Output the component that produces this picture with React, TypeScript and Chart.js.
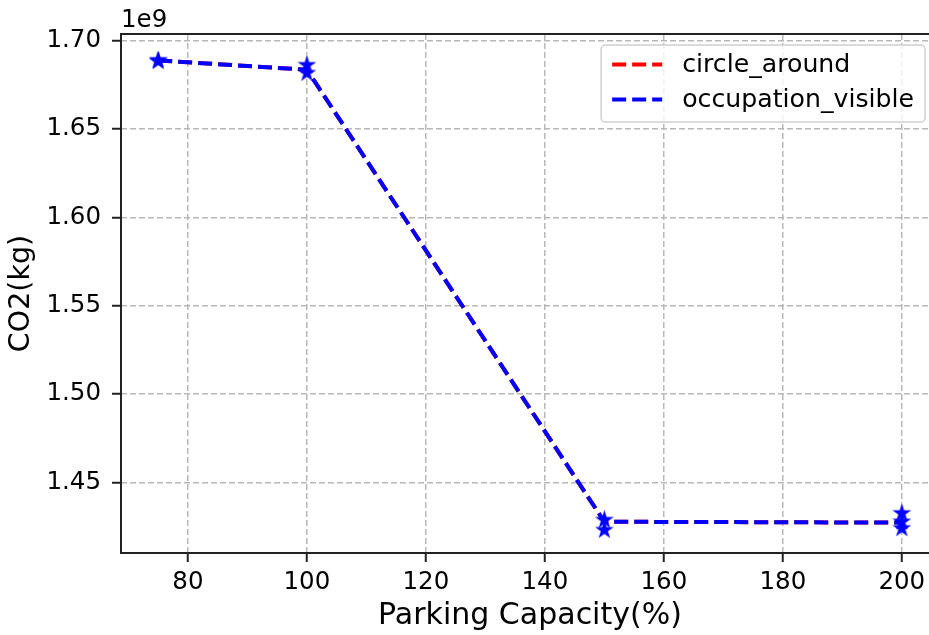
import React, { useEffect, useRef } from "react";
import { Chart, registerables } from "chart.js";

Chart.register(...registerables);

// ---- data ----
const capacity = [75, 100, 150, 200];
const circleAround = [1.6888e9, 1.6836e9, 1.4277e9, 1.4272e9];
const occupationVisible = [1.6888e9, 1.6836e9, 1.4277e9, 1.4272e9];
const runCapacity = [75, 75, 100, 100, 150, 150, 200, 200, 200];
const runCO2 = [1.689e9, 1.6884e9, 1.6862e9, 1.6817e9, 1.4287e9, 1.423e9, 1.4325e9, 1.4277e9, 1.424e9];
const xTicks = [80, 100, 120, 140, 160, 180, 200];
const yTicks = [1.45e9, 1.5e9, 1.55e9, 1.6e9, 1.65e9, 1.7e9];
const xRange = [68.75, 206.25];
const yRange = [1.41e9, 1.7038e9];
const seriesLabels = ["circle_around", "occupation_visible"];
const seriesColors = ["#ff0000", "#0000ff"];
const yOffsetLabel = "1e9";
const xTitle = "Parking Capacity(%)";
const yTitle = "CO2(kg)";

const FONT = '"DejaVu Sans", sans-serif';
const CANVAS_W = 950;
const CANVAS_H = 635;
const TICK_FS = 24.5;
const LEGEND_FS = 25.2;
const LINE_DASH = [14, 6];

function makeStar(color: string, r: number): HTMLCanvasElement {
  const size = Math.ceil(r * 2 + 4);
  const c = document.createElement("canvas");
  c.width = size;
  c.height = size;
  const ctx = c.getContext("2d")!;
  ctx.fillStyle = color;
  ctx.strokeStyle = color;
  ctx.lineWidth = 1.5;
  ctx.lineJoin = "miter";
  ctx.beginPath();
  for (let i = 0; i < 10; i++) {
    const rad = i % 2 === 0 ? r : r * 0.382;
    const a = -Math.PI / 2 + (i * Math.PI) / 5;
    const px = size / 2 + rad * Math.cos(a);
    const py = size / 2 + rad * Math.sin(a);
    if (i === 0) ctx.moveTo(px, py);
    else ctx.lineTo(px, py);
  }
  ctx.closePath();
  ctx.fill();
  ctx.stroke();
  return c;
}

const framePlugin = {
  id: "frameAndLegend",
  afterDatasetsDraw(chart: any) {
    const ctx = chart.ctx;
    const { left, top, right, bottom } = chart.chartArea;
    ctx.save();
    ctx.strokeStyle = "#222";
    ctx.lineWidth = 2;
    ctx.beginPath();
    ctx.moveTo(right + 5, top);
    ctx.lineTo(left, top);
    ctx.lineTo(left, bottom);
    ctx.lineTo(right + 5, bottom);
    ctx.stroke();
    ctx.restore();
  },
  afterDraw(chart: any) {
    const ctx = chart.ctx;
    const { left, top, right } = chart.chartArea;
    ctx.save();
    // offset text
    ctx.font = `${TICK_FS}px ${FONT}`;
    ctx.fillStyle = "#000";
    ctx.textBaseline = "alphabetic";
    ctx.textAlign = "left";
    ctx.fillText(yOffsetLabel, left, top - 7);

    // legend
    ctx.font = `${LEGEND_FS}px ${FONT}`;
    const pad = 11;
    const handleLen = 50;
    const textGap = 20;
    const rowH = 35;
    const maxW = Math.max(...seriesLabels.map((l) => ctx.measureText(l).width));
    const boxW = pad + handleLen + textGap + maxW + pad;
    const boxH = 77;
    const boxR = right - 14;
    const boxL = boxR - boxW;
    const boxT = top + 11;
    ctx.beginPath();
    const rr = 4;
    ctx.moveTo(boxL + rr, boxT);
    ctx.arcTo(boxR, boxT, boxR, boxT + boxH, rr);
    ctx.arcTo(boxR, boxT + boxH, boxL, boxT + boxH, rr);
    ctx.arcTo(boxL, boxT + boxH, boxL, boxT, rr);
    ctx.arcTo(boxL, boxT, boxR, boxT, rr);
    ctx.closePath();
    ctx.fillStyle = "rgba(255,255,255,0.8)";
    ctx.fill();
    ctx.strokeStyle = "#d0d0d0";
    ctx.lineWidth = 1.5;
    ctx.stroke();
    seriesLabels.forEach((label, i) => {
      const cy = boxT + 19.5 + i * rowH;
      ctx.beginPath();
      ctx.setLineDash(LINE_DASH);
      ctx.strokeStyle = seriesColors[i];
      ctx.lineWidth = 4;
      ctx.moveTo(boxL + pad, cy);
      ctx.lineTo(boxL + pad + handleLen, cy);
      ctx.stroke();
      ctx.setLineDash([]);
      ctx.fillStyle = "#000";
      ctx.textBaseline = "middle";
      ctx.fillText(label, boxL + pad + handleLen + textGap, cy + 1);
    });
    ctx.restore();
  },
};

export default function App() {
  const ref = useRef<HTMLCanvasElement | null>(null);

  useEffect(() => {
    if (!ref.current) return;
    const star = makeStar(seriesColors[1], 7.4);
    const gridCommon = {
      display: true,
      color: "#b8b8b8",
      lineWidth: 1.5,
      drawTicks: true,
      tickLength: 9,
      tickColor: "#222",
      tickWidth: 2,
      tickBorderDash: [],
    };
    const borderCommon = { display: false, dash: [6, 3] };
    const chart = new Chart(ref.current, {
      type: "line",
      data: {
        datasets: [
          {
            label: "runs",
            data: runCapacity.map((x, i) => ({ x, y: runCO2[i] })),
            showLine: false,
            pointStyle: star as any,
            pointRadius: 7,
            borderColor: seriesColors[1],
            backgroundColor: seriesColors[1],
            order: 1,
          },
          {
            label: seriesLabels[1],
            data: capacity.map((x, i) => ({ x, y: occupationVisible[i] })),
            borderColor: seriesColors[1],
            borderWidth: 4,
            borderDash: LINE_DASH,
            pointRadius: 0,
            tension: 0,
            fill: false,
            order: 2,
          },
          {
            label: seriesLabels[0],
            data: capacity.map((x, i) => ({ x, y: circleAround[i] })),
            borderColor: seriesColors[0],
            borderWidth: 4,
            borderDash: LINE_DASH,
            pointRadius: 0,
            tension: 0,
            fill: false,
            order: 3,
          },
        ],
      },
      options: {
        responsive: false,
        animation: false,
        layout: { padding: { top: 34, right: CANVAS_W - 939, left: 0, bottom: 0 } },
        plugins: { legend: { display: false }, tooltip: { enabled: false } },
        scales: {
          x: {
            type: "linear",
            min: xRange[0],
            max: xRange[1],
            afterBuildTicks: (scale: any) => {
              scale.ticks = xTicks.map((v) => ({ value: v }));
            },
            afterFit: (scale: any) => {
              scale.height = 82;
            },
            grid: gridCommon as any,
            border: borderCommon as any,
            ticks: {
              color: "#000",
              font: { family: FONT, size: TICK_FS },
              padding: 6,
              maxRotation: 0,
              autoSkip: false,
              callback: (v: any) => String(v),
            },
            title: {
              display: true,
              text: xTitle,
              color: "#000",
              font: { family: FONT, size: 30 },
              padding: { top: 1, bottom: 1 },
            },
          },
          y: {
            type: "linear",
            min: yRange[0],
            max: yRange[1],
            afterBuildTicks: (scale: any) => {
              scale.ticks = yTicks.map((v) => ({ value: v }));
            },
            afterFit: (scale: any) => {
              scale.width = 121;
            },
            grid: gridCommon as any,
            border: borderCommon as any,
            ticks: {
              color: "#000",
              font: { family: FONT, size: TICK_FS },
              padding: 11,
              autoSkip: false,
              callback: (v: any) => (Number(v) / 1e9).toFixed(2),
            },
            title: {
              display: true,
              text: yTitle,
              color: "#000",
              font: { family: FONT, size: 28.5 },
              padding: { top: 4, bottom: 4 },
            },
          },
        },
      },
      plugins: [framePlugin],
    });
    return () => chart.destroy();
  }, []);

  return (
    <div
      style={{
        position: "fixed",
        left: 0,
        top: 0,
        width: 929,
        height: 635,
        overflow: "hidden",
        background: "#fff",
      }}
    >
      <canvas ref={ref} width={CANVAS_W} height={CANVAS_H} style={{ display: "block" }} />
    </div>
  );
}
